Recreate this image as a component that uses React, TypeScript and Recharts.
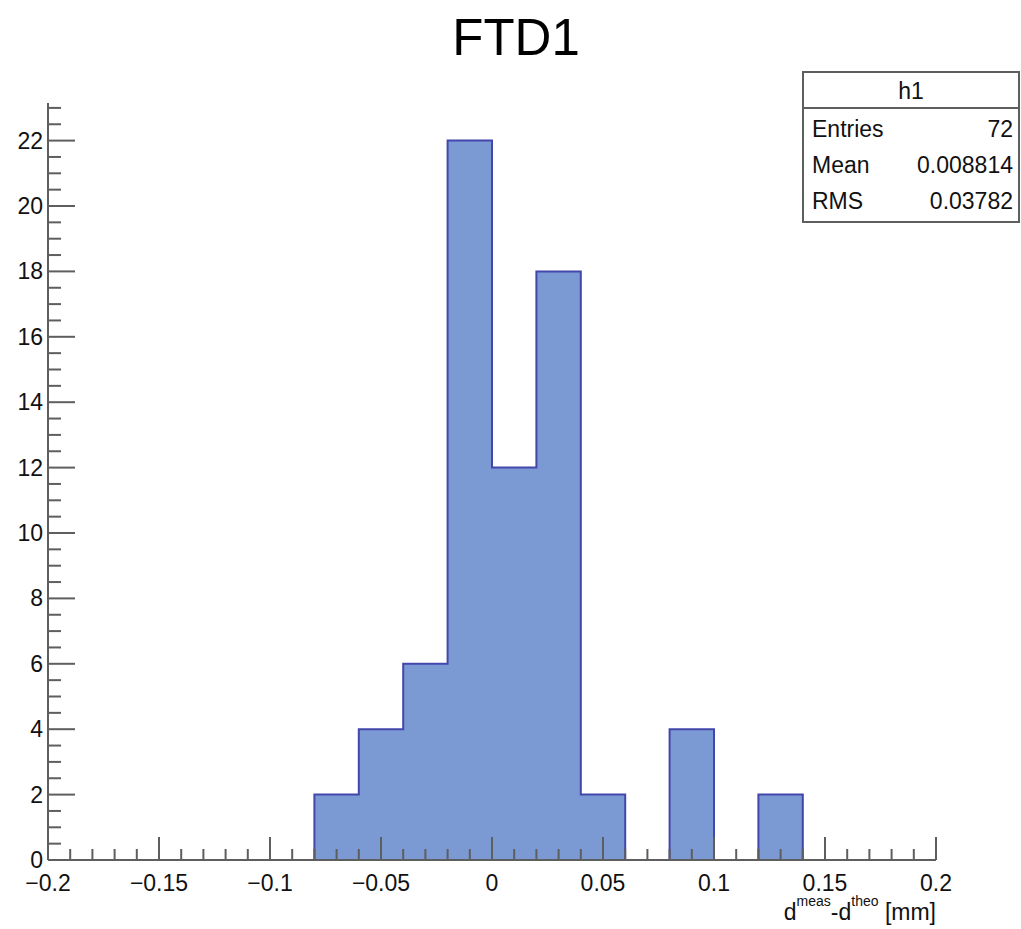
import React from 'react';
import { ComposedChart, Area, XAxis, YAxis } from 'recharts';

// Histogram bins (lower edges) and counts, bin width 0.02
const binLowEdges = [-0.08, -0.06, -0.04, -0.02, 0, 0.02, 0.04, 0.06, 0.08, 0.1, 0.12];
const binCounts = [2, 4, 6, 22, 12, 18, 2, 0, 4, 0, 2];
const binUpperEnd = 0.14;

// Axis ticks
const xMajorTicks = [-0.2, -0.15, -0.1, -0.05, 0, 0.05, 0.1, 0.15, 0.2];
const xMajorLabels = ['\u22120.2', '\u22120.15', '\u22120.1', '\u22120.05', '0', '0.05', '0.1', '0.15', '0.2'];
const xAllTicks = [
  -0.2, -0.19, -0.18, -0.17, -0.16, -0.15, -0.14, -0.13, -0.12, -0.11,
  -0.1, -0.09, -0.08, -0.07, -0.06, -0.05, -0.04, -0.03, -0.02, -0.01,
  0, 0.01, 0.02, 0.03, 0.04, 0.05, 0.06, 0.07, 0.08, 0.09,
  0.1, 0.11, 0.12, 0.13, 0.14, 0.15, 0.16, 0.17, 0.18, 0.19, 0.2,
];
const yMajorTicks = [0, 2, 4, 6, 8, 10, 12, 14, 16, 18, 20, 22];
const yMajorLabels = ['0', '2', '4', '6', '8', '10', '12', '14', '16', '18', '20', '22'];
const yAllTicks = [
  0, 0.5, 1, 1.5, 2, 2.5, 3, 3.5, 4, 4.5, 5, 5.5, 6, 6.5, 7, 7.5, 8, 8.5, 9, 9.5,
  10, 10.5, 11, 11.5, 12, 12.5, 13, 13.5, 14, 14.5, 15, 15.5, 16, 16.5, 17, 17.5,
  18, 18.5, 19, 19.5, 20, 20.5, 21, 21.5, 22, 22.5, 23,
];

// Stats box
const statsTitle = 'h1';
const statsNames = ['Entries', 'Mean', 'RMS'];
const statsValues = ['72', '0.008814', '0.03782'];

const title = 'FTD1';

// Step table built from the bins
const stepData = [
  { x: binLowEdges[0], y: 0 },
  ...binLowEdges.map((x, i) => ({ x, y: binCounts[i] })),
  { x: binUpperEnd, y: 0 },
];

const FONT = '"Liberation Sans", Arial, Helvetica, sans-serif';
const AXIS = '#5e5e5e';
const FILL = '#7b9ad4';
const STROKE = '#4347ab';
const X_DOMAIN: [number, number] = [-0.2, 0.2];
const Y_DOMAIN: [number, number] = [0, 23.15];
const MARGIN = { top: 103, right: 85, bottom: 0, left: 0 };

const findIdx = (arr: number[], v: number) => arr.findIndex((m) => Math.abs(m - v) < 1e-9);

const XTick = (props: any) => {
  const { x, y, payload } = props;
  const idx = findIdx(xMajorTicks, payload.value);
  const major = idx >= 0;
  return (
    <g>
      <line x1={x} y1={y} x2={x} y2={y - (major ? 23 : 11)} stroke={AXIS} strokeWidth={2} />
      {major && (
        <text x={x} y={y + 31} textAnchor="middle" fontSize={23} fontFamily={FONT} fill="#111">
          {xMajorLabels[idx]}
        </text>
      )}
    </g>
  );
};

const YTick = (props: any) => {
  const { x, y, payload } = props;
  const idx = findIdx(yMajorTicks, payload.value);
  const major = idx >= 0;
  return (
    <g>
      <line x1={x} y1={y} x2={x + (major ? 27 : 13)} y2={y} stroke={AXIS} strokeWidth={2} />
      {major && (
        <text x={x - 5} y={y + 8} textAnchor="end" fontSize={23} fontFamily={FONT} fill="#111">
          {yMajorLabels[idx]}
        </text>
      )}
    </g>
  );
};

function Axes({ withTicks }: { withTicks: boolean }) {
  return null;
}

export default function App() {
  const axisLine = { stroke: AXIS, strokeWidth: 2 };
  return (
    <div style={{ position: 'absolute', left: 0, top: 0, width: 1021, height: 929, background: '#fff' }}>
      {/* histogram layer */}
      <ComposedChart width={1021} height={929} data={stepData} margin={MARGIN}>
        <XAxis
          xAxisId="bottom"
          dataKey="x"
          type="number"
          domain={X_DOMAIN}
          allowDataOverflow
          height={69}
          tick={false}
          tickLine={false}
          axisLine={false}
        />
        <YAxis
          yAxisId="left"
          type="number"
          domain={Y_DOMAIN}
          allowDataOverflow
          width={48}
          tick={false}
          tickLine={false}
          axisLine={false}
        />
        <Area
          xAxisId="bottom"
          yAxisId="left"
          dataKey="y"
          type="stepAfter"
          fill={FILL}
          fillOpacity={1}
          stroke={STROKE}
          strokeWidth={2}
          dot={false}
          activeDot={false}
          isAnimationActive={false}
        />
      </ComposedChart>

      {/* axes/frame layer drawn over the histogram */}
      <div style={{ position: 'absolute', left: 0, top: 0, pointerEvents: 'none' }}>
        <ComposedChart width={1021} height={929} data={stepData} margin={MARGIN}>
          <XAxis
            xAxisId="bottom"
            dataKey="x"
            type="number"
            domain={X_DOMAIN}
            ticks={xAllTicks}
            interval={0}
            allowDataOverflow
            height={69}
            tickSize={0}
            tickMargin={0}
            tickLine={false}
            tick={<XTick />}
            axisLine={axisLine}
          />
          <XAxis
            xAxisId="top"
            orientation="top"
            type="number"
            domain={X_DOMAIN}
            allowDataOverflow
            height={0}
            tick={false}
            tickLine={false}
            axisLine={axisLine}
          />
          <YAxis
            yAxisId="left"
            type="number"
            domain={Y_DOMAIN}
            ticks={yAllTicks}
            interval={0}
            allowDataOverflow
            width={48}
            tickSize={0}
            tickMargin={0}
            tickLine={false}
            tick={<YTick />}
            axisLine={axisLine}
          />
          <YAxis
            yAxisId="right"
            orientation="right"
            type="number"
            domain={Y_DOMAIN}
            allowDataOverflow
            width={0}
            tick={false}
            tickLine={false}
            axisLine={axisLine}
          />
          <Area
            xAxisId="bottom"
            yAxisId="left"
            dataKey="y"
            type="stepAfter"
            fill="none"
            stroke="none"
            dot={false}
            activeDot={false}
            isAnimationActive={false}
          />
        </ComposedChart>
      </div>

      <svg
        width={1021}
        height={929}
        style={{ position: 'absolute', left: 0, top: 0, pointerEvents: 'none' }}
        fontFamily={FONT}
      >
        <text x={516} y={55} textAnchor="middle" fontSize={51} fill="#000">
          {title}
        </text>
        <text x={936} y={920} textAnchor="end" fontSize={23} fill="#111">
          d<tspan dy={-14} fontSize={14}>meas</tspan>
          <tspan dy={14}>-d</tspan>
          <tspan dy={-14} fontSize={14}>theo</tspan>
          <tspan dy={14}> [mm]</tspan>
        </text>
        <rect x={803} y={72} width={216} height={150} fill="#fff" stroke={AXIS} strokeWidth={2} />
        <line x1={803} y1={108} x2={1019} y2={108} stroke={AXIS} strokeWidth={2} />
        <text x={911} y={99} textAnchor="middle" fontSize={23} fill="#111">
          {statsTitle}
        </text>
        {statsNames.map((n, i) => (
          <g key={n}>
            <text x={812} y={137 + i * 36} fontSize={23} fill="#111">
              {n}
            </text>
            <text x={1013} y={137 + i * 36} textAnchor="end" fontSize={23} fill="#111">
              {statsValues[i]}
            </text>
          </g>
        ))}
      </svg>
    </div>
  );
}
